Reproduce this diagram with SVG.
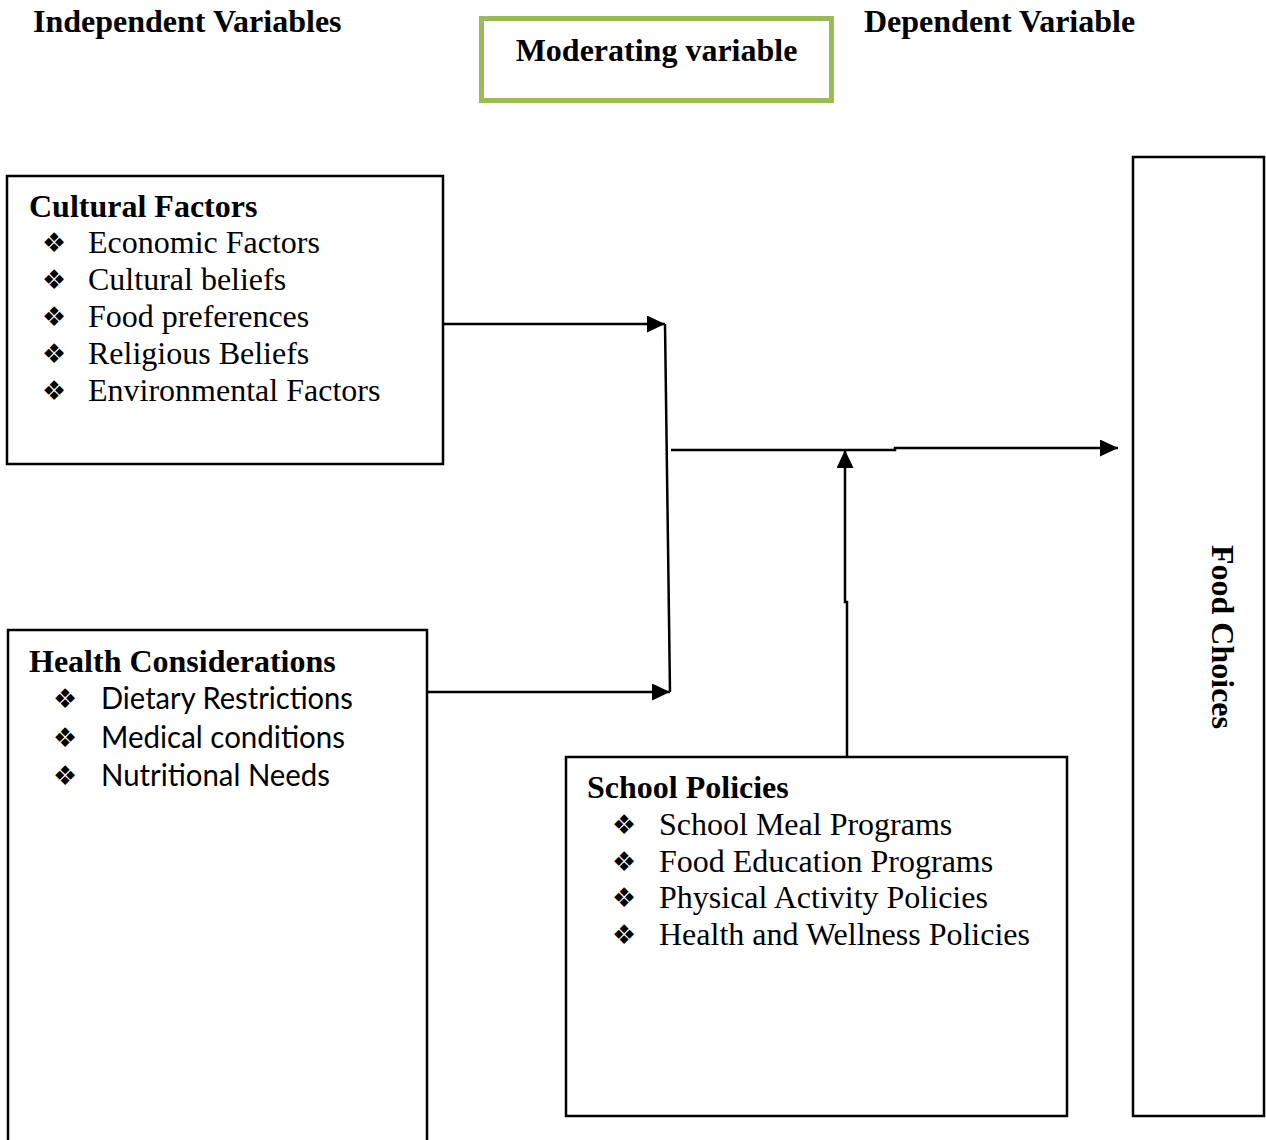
<svg xmlns="http://www.w3.org/2000/svg" width="1266" height="1140" viewBox="0 0 1266 1140">
<style>
.hdr{font-family:"Liberation Serif","Times New Roman",serif;font-weight:bold;font-size:32px;fill:#000}
.item{font-family:"Liberation Serif","Times New Roman",serif;font-size:32px;fill:#000}
.sitem{font-family:Lato,"Open Sans",sans-serif;font-size:30px;fill:#000}
.bul{font-family:"DejaVu Sans",sans-serif;font-size:27px;fill:#000}
.box{fill:#fff;stroke:#000;stroke-width:2.5}
.conn{fill:none;stroke:#000;stroke-width:2.5}
</style>
<defs>
<marker id="arr" markerUnits="userSpaceOnUse" markerWidth="19" markerHeight="17" refX="18" refY="8.5" orient="auto">
<path d="M0,0 L18,8.5 L0,17 Z" fill="#000"/>
</marker>
</defs>
<rect width="1266" height="1140" fill="#fff"/>

<g id="headers">
<text class="hdr" x="33" y="32">Independent Variables</text>
<text class="hdr" x="864" y="32">Dependent Variable</text>
</g>

<g id="moderating">
<rect x="481.5" y="18.5" width="350" height="82" fill="#fff" stroke="#9BBB59" stroke-width="5"/>
<text class="hdr" x="656.5" y="61" text-anchor="middle">Moderating variable</text>
</g>

<g id="cultural">
<rect class="box" x="7" y="176" width="436" height="288"/>
<text class="hdr" x="29" y="217">Cultural Factors</text>
<text class="bul" x="42" y="252">❖</text><text class="item" x="88" y="253">Economic Factors</text>
<text class="bul" x="42" y="289">❖</text><text class="item" x="88" y="290">Cultural beliefs</text>
<text class="bul" x="42" y="326">❖</text><text class="item" x="88" y="327">Food preferences</text>
<text class="bul" x="42" y="363">❖</text><text class="item" x="88" y="364">Religious Beliefs</text>
<text class="bul" x="42" y="400">❖</text><text class="item" x="88" y="401">Environmental Factors</text>
</g>

<g id="health">
<path class="box" d="M8,1142 V630 H427 V1142"/>
<text class="hdr" x="29" y="672">Health Considerations</text>
<text class="bul" x="53" y="708">❖</text><text class="sitem" x="101" y="709" textLength="252" lengthAdjust="spacingAndGlyphs">Dietary Restrictions</text>
<text class="bul" x="53" y="747">❖</text><text class="sitem" x="101" y="748" textLength="244" lengthAdjust="spacingAndGlyphs">Medical conditions</text>
<text class="bul" x="53" y="785">❖</text><text class="sitem" x="101" y="786" textLength="229" lengthAdjust="spacingAndGlyphs">Nutritional Needs</text>
</g>

<g id="school">
<rect class="box" x="566" y="757" width="501" height="359"/>
<text class="hdr" x="587" y="798">School Policies</text>
<text class="bul" x="612" y="834">❖</text><text class="item" x="659" y="835">School Meal Programs</text>
<text class="bul" x="612" y="871">❖</text><text class="item" x="659" y="872">Food Education Programs</text>
<text class="bul" x="612" y="907">❖</text><text class="item" x="659" y="908">Physical Activity Policies</text>
<text class="bul" x="612" y="944">❖</text><text class="item" x="659" y="945">Health and Wellness Policies</text>
</g>

<g id="foodchoices">
<rect class="box" x="1133" y="157" width="131" height="959"/>
<text class="hdr" transform="translate(1212,637) rotate(90)" text-anchor="middle">Food Choices</text>
</g>

<g id="connectors">
<path class="conn" d="M443,324 H665" marker-end="url(#arr)"/>
<path class="conn" d="M665,324 L670,692"/>
<path class="conn" d="M427,692 H670" marker-end="url(#arr)"/>
<path class="conn" d="M671,450 H895 V448 H1118" marker-end="url(#arr)"/>
<path class="conn" d="M847,757 V602 H845 V450" marker-end="url(#arr)"/>
</g>
</svg>
